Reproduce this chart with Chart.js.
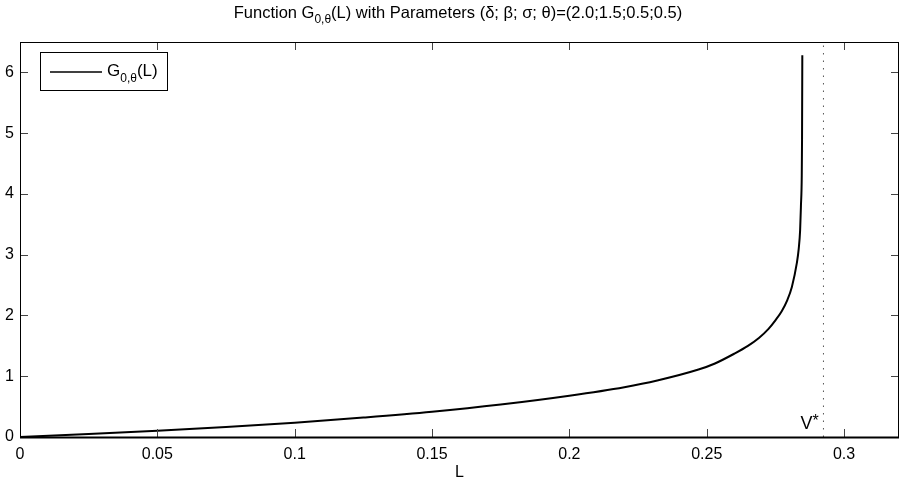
<!DOCTYPE html>
<html>
<head>
<meta charset="utf-8">
<script src="https://cdn.jsdelivr.net/npm/chart.js@4"></script>
<style>
  html, body { margin: 0; padding: 0; background: #fff; }
  #wrap { width: 902px; height: 483px; }
</style>
</head>
<body>
<div id="wrap"><canvas id="c" width="902" height="483"></canvas></div>
<script>
// values
const Lvalues = [0, 0.025, 0.05, 0.075, 0.1, 0.125, 0.15, 0.175, 0.2, 0.22, 0.232, 0.247, 0.253, 0.26, 0.265, 0.269, 0.2725, 0.275, 0.2773, 0.2793, 0.281, 0.2828, 0.2835, 0.284, 0.2843, 0.2846, 0.2847, 0.2848];
const Gvalues = [0, 0.05, 0.104, 0.165, 0.235, 0.32, 0.416, 0.535, 0.68, 0.82, 0.93, 1.11, 1.21, 1.37, 1.50, 1.63, 1.78, 1.92, 2.07, 2.25, 2.47, 2.86, 3.1, 3.4, 3.8, 4.3, 4.9, 6.28];
const vStar = 0.2925;
const xTicks = [0, 0.05, 0.1, 0.15, 0.2, 0.25, 0.3];
const yTicks = [0, 1, 2, 3, 4, 5, 6];

const FONT = '"Liberation Sans", Arial, Helvetica, sans-serif';

const curve = Lvalues.map((l, i) => ({ x: l, y: Gvalues[i] }));
const vLine = [{ x: vStar, y: 0 }, { x: vStar, y: 6.5 }];

// text with subscript pieces: [text, isSub]
function drawRich(ctx, parts, x, y, size, subSize, subDrop, align) {
  let w = 0;
  parts.forEach(p => {
    ctx.font = (p[1] ? subSize : size) + 'px ' + FONT;
    w += ctx.measureText(p[0]).width;
  });
  let cx = align === 'center' ? x - w / 2 : x;
  ctx.textBaseline = 'alphabetic';
  ctx.textAlign = 'left';
  parts.forEach(p => {
    ctx.font = (p[1] ? subSize : size) + 'px ' + FONT;
    ctx.fillText(p[0], cx, p[1] ? y + subDrop : y);
    cx += ctx.measureText(p[0]).width;
  });
}

const framePlugin = {
  id: 'frame',
  afterDraw(chart) {
    const { ctx, chartArea: a, scales } = chart;
    ctx.save();
    ctx.fillStyle = '#000';

    // ticks pointing inward on all four sides
    ctx.strokeStyle = '#444';
    ctx.lineWidth = 1;
    ctx.beginPath();
    xTicks.forEach(t => {
      const px = Math.round(scales.x.getPixelForValue(t)) + 0.5;
      ctx.moveTo(px, a.bottom); ctx.lineTo(px, a.bottom - 8);
      ctx.moveTo(px, a.top); ctx.lineTo(px, a.top + 8);
    });
    yTicks.forEach(t => {
      const py = Math.round(scales.y.getPixelForValue(t)) + 0.5;
      ctx.moveTo(a.left, py); ctx.lineTo(a.left + 8, py);
      ctx.moveTo(a.right, py); ctx.lineTo(a.right - 8, py);
    });
    ctx.stroke();

    // box
    ctx.strokeStyle = '#000';
    ctx.lineWidth = 1;
    ctx.strokeRect(Math.round(a.left) + 0.5, Math.round(a.top) + 0.5,
      Math.round(a.right - a.left) - 1, Math.round(a.bottom - a.top));
    ctx.lineWidth = 2;
    ctx.beginPath();
    ctx.moveTo(a.left, Math.round(a.bottom) + 0.5);
    ctx.lineTo(a.right, Math.round(a.bottom) + 0.5);
    ctx.stroke();

    // V* label next to the dotted line
    const vx = scales.x.getPixelForValue(vStar);
    ctx.font = '18px ' + FONT;
    ctx.textAlign = 'right';
    ctx.textBaseline = 'alphabetic';
    ctx.fillText('V', vx - 11, 429);
    ctx.font = '16px ' + FONT;
    ctx.textAlign = 'left';
    ctx.fillText('*', vx - 11, 426);

    // legend
    ctx.fillStyle = '#fff';
    ctx.fillRect(40, 52, 127, 38);
    ctx.strokeStyle = '#000';
    ctx.lineWidth = 1;
    ctx.strokeRect(40.5, 52.5, 127, 38);
    ctx.lineWidth = 1.5;
    ctx.beginPath();
    ctx.moveTo(50, 72); ctx.lineTo(102, 72);
    ctx.stroke();
    ctx.fillStyle = '#000';
    drawRich(ctx, [['G', false], ['0,θ', true], ['(L)', false]], 107, 76, 17, 12, 6, 'left');

    // title
    drawRich(ctx, [['Function G', false], ['0,θ', true],
      ['(L) with Parameters (δ; β; σ; θ)=(2.0;1.5;0.5;0.5)', false]],
      458, 18, 16.5, 12, 5, 'center');
    ctx.restore();
  }
};

new Chart(document.getElementById('c'), {
  type: 'scatter',
  data: {
    datasets: [
      {
        label: 'G',
        data: curve,
        showLine: true,
        borderColor: '#000',
        borderWidth: 2,
        pointRadius: 0,
        cubicInterpolationMode: 'monotone',
        fill: false
      },
      {
        label: 'V*',
        data: vLine,
        showLine: true,
        borderColor: '#555',
        borderWidth: 1,
        borderDash: [1.5, 6],
        pointRadius: 0,
        fill: false
      }
    ]
  },
  options: {
    responsive: false,
    animation: false,
    devicePixelRatio: 1,
    layout: { padding: { top: 42, right: 3, left: 0, bottom: 0 } },
    plugins: { legend: { display: false }, tooltip: { enabled: false }, title: { display: false } },
    scales: {
      x: {
        type: 'linear',
        min: 0,
        max: 0.32,
        afterBuildTicks: s => { s.ticks = xTicks.map(v => ({ value: v })); },
        afterFit: s => { s.height = 46; },
        grid: { display: false, drawTicks: false },
        border: { display: false },
        ticks: {
          padding: 8,
          color: '#000',
          maxRotation: 0,
          font: { family: FONT, size: 16 },
          callback: v => String(+v.toFixed(2))
        },
        title: {
          display: true,
          text: 'L',
          color: '#000',
          font: { family: FONT, size: 16 },
          padding: { top: 0, bottom: 1 }
        }
      },
      y: {
        type: 'linear',
        min: 0,
        max: 6.5,
        afterBuildTicks: s => { s.ticks = yTicks.map(v => ({ value: v })); },
        afterFit: s => { s.width = 20; },
        grid: { display: false, drawTicks: false },
        border: { display: false },
        ticks: {
          padding: 6,
          color: '#000',
          font: { family: FONT, size: 16 },
          callback: v => String(v)
        }
      }
    }
  },
  plugins: [framePlugin]
});
</script>
</body>
</html>
